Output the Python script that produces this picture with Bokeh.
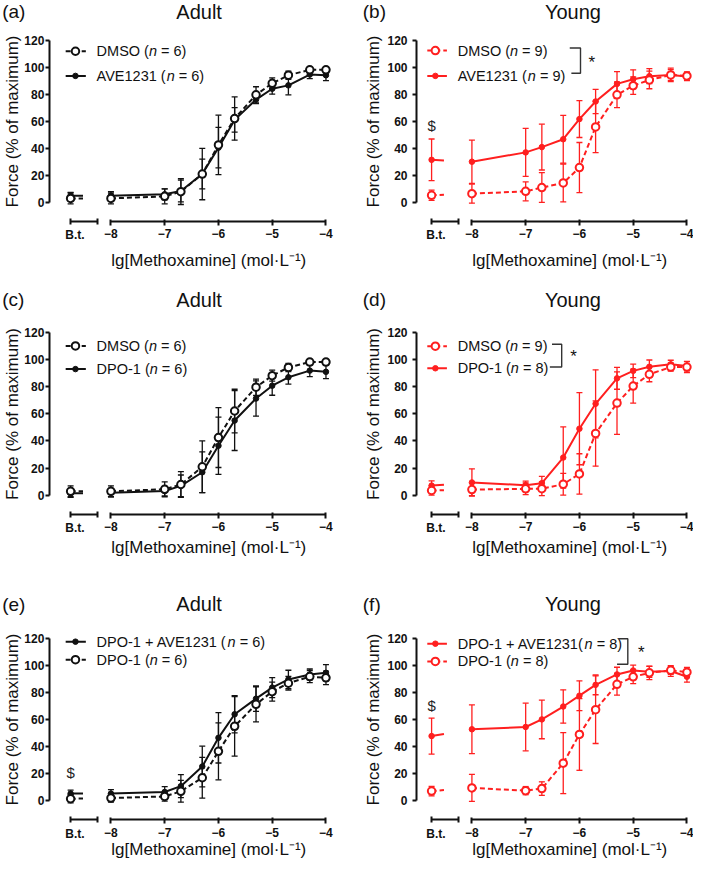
import numpy as np
from bokeh.plotting import figure
from bokeh.models import Range1d, LinearAxis, FixedTicker, Whisker, TeeHead, ColumnDataSource
from bokeh.layouts import column, row
from bokeh.core.properties import value
from bokeh.embed import file_html
from bokeh.resources import INLINE

# ---------------- data ----------------
CONC = [1e-8, 1e-7, 2e-7, 5e-7, 1e-6, 2e-6, 5e-6, 1e-5, 2e-5, 5e-5, 1e-4]   # mol/L
LG = [float(v) for v in np.log10(CONC)]
BT_LABEL = "B.t."
X_TICKS = [-8, -7, -6, -5, -4]
X_TICK_LABELS = ["\u22128", "\u22127", "\u22126", "\u22125", "\u22124"]
Y_TICKS = [0, 20, 40, 60, 80, 100, 120]

# index 0 = B.t. (basal tension), then the CONC order
adult_dmso       = [3.0, 3.0, 4.5, 8.0, 21.0, 42.5, 62.0, 79.5, 88.0, 94.0, 98.0, 98.0]
adult_dmso_sem   = [4.0, 4.0, 5.5, 9.5, 19.0, 22.0, 16.0, 6.0, 4.0, 3.0, 2.0, 2.0]
adult_ave        = [5.0, 5.0, 6.0, 8.5, 21.0, 40.5, 61.0, 76.0, 84.0, 86.5, 94.5, 94.0]
adult_ave_sem    = [2.5, 3.0, 4.0, 8.0, 11.0, 15.0, 9.0, 3.0, 4.0, 7.0, 3.0, 4.0]
adult_dpo        = [1.5, 2.0, 3.2, 7.0, 17.0, 36.5, 55.0, 71.2, 80.6, 86.8, 91.7, 90.8]
adult_dpo_sem    = [3.0, 3.0, 3.5, 8.0, 15.0, 21.0, 22.0, 13.0, 7.0, 5.0, 4.5, 5.0]
adult_dpo_ave    = [5.3, 5.3, 6.5, 10.8, 25.3, 46.5, 63.9, 75.4, 83.6, 89.6, 93.3, 94.5]
adult_dpo_ave_sem= [2.5, 3.0, 4.0, 8.5, 15.0, 18.6, 13.7, 9.4, 7.4, 6.8, 4.0, 6.0]

young_dmso_b     = [5.3, 6.5, 8.2, 11.0, 14.4, 25.8, 55.8, 79.5, 86.3, 90.5, 94.2, 93.5]
young_dmso_b_sem = [3.8, 7.0, 7.0, 11.0, 14.0, 18.5, 19.0, 9.5, 6.5, 6.5, 4.0, 3.0]
young_ave        = [31.5, 30.1, 37.0, 40.9, 46.7, 61.6, 74.6, 87.6, 91.0, 93.3, 94.2, 93.0]
young_ave_sem    = [15.4, 16.0, 17.7, 16.9, 17.6, 13.6, 9.0, 9.0, 7.0, 5.5, 5.0, 3.0]
young_dmso_d     = [3.6, 4.3, 4.8, 4.9, 8.2, 15.8, 45.5, 67.8, 80.3, 89.0, 94.3, 94.3]
young_dmso_d_sem = [3.4, 4.5, 4.3, 5.0, 8.0, 14.8, 24.0, 23.0, 12.5, 5.5, 3.0, 4.0]
young_dpo        = [7.2, 9.5, 7.5, 9.0, 27.8, 49.0, 67.3, 86.0, 91.5, 94.5, 96.3, 95.0]
young_dpo_sem    = [3.5, 10.0, 3.0, 5.0, 22.5, 26.5, 25.0, 8.0, 5.0, 5.0, 3.0, 3.5]
young_dpo_ave    = [47.8, 52.8, 54.5, 60.1, 69.6, 77.6, 85.6, 93.3, 96.2, 95.2, 95.8, 91.6]
young_dpo_ave_sem= [13.3, 18.0, 17.6, 14.3, 12.3, 11.0, 7.3, 5.3, 4.0, 4.0, 4.0, 4.0]

# ---------------- style / layout ----------------
FONT = "Liberation Sans"
RED = "#ff1f1f"
BLACK = "#111111"
BT_X = -8.75          # x position of the B.t. column
STUB = 0.23           # length of the line stub leaving the B.t. point
W = {"L": 346, "R": 347}
H = [280, 299, 289]
XR = {"L": (-10.0545, -3.618), "R": (-10.333, -3.878)}
YR = [(-57.65, 149.2), (-61.8, 157.9), (-50.0, 163.4)]
YAX_X = {"L": -9.145, "R": -9.03}
XAX_Y = -14.0
TITLE_Y = [141.0, 143.6, 145.0]
TITLE_X = {"L": -6.36, "R": -6.12}
PLAB_X = {"L": -10.024, "R": -10.03}
XLAB_Y = [-43.0, -38.0, -36.3]
LEG_GEOM = {"L": (-8.842, -8.467, -8.66, -8.267), "R": (-8.83, -8.465, -8.68, -8.265)}

CW = {' ': 278, '(': 333, ')': 333, '+': 584, '-': 333, '=': 584, 'A': 667, 'D': 722,
      'E': 667, 'M': 833, 'O': 778, 'P': 667, 'S': 667, 'V': 667, 'n': 556}
LEG_SIZE = 14.5


def tw(s, size=LEG_SIZE):
    return sum(CW.get(c, 556) for c in s) * size / 1000.0


def txt(p, x, y, s, size, align="left", style="normal", color=BLACK, x_offset=0):
    p.text(x=[x], y=[y], text=[s], text_font=value(FONT), text_font_size=size,
           text_font_style=style, text_align=align, text_baseline="middle",
           text_color=color, x_offset=x_offset)


def draw_series(p, mean, sem, kind, color):
    dash = "5 3" if kind == "open" else "solid"
    xs = [BT_X] + LG
    src = ColumnDataSource(dict(x=xs, upper=[m + e for m, e in zip(mean, sem)],
                                lower=[m - e for m, e in zip(mean, sem)]))
    wh = Whisker(base="x", upper="upper", lower="lower", source=src, line_color=color,
                 line_width=1.3,
                 upper_head=TeeHead(size=6, line_color=color, line_width=1.3),
                 lower_head=TeeHead(size=6, line_color=color, line_width=1.3))
    p.add_layout(wh)
    frac = STUB / (LG[0] - BT_X)
    p.line([BT_X, BT_X + STUB], [mean[0], mean[0] + (mean[1] - mean[0]) * frac],
           line_color=color, line_width=2, line_dash=dash)
    p.line(LG, mean[1:], line_color=color, line_width=2, line_dash=dash)
    if kind == "open":
        p.scatter(xs, mean, marker="circle", size=7.5, fill_color="white",
                  line_color=color, line_width=2)
    else:
        p.scatter(xs, mean, marker="circle", size=5.5, fill_color=color,
                  line_color=color, line_width=1)


def legend_row(p, side, y, kind, color, parts):
    x0, x1, xm, xt = LEG_GEOM[side]
    dash = "5 3" if kind == "open" else "solid"
    p.line([x0, x1], [y, y], line_color=color, line_width=2, line_dash=dash)
    if kind == "open":
        p.scatter([xm], [y], marker="circle", size=7.5, fill_color="white",
                  line_color=color, line_width=2)
    else:
        p.scatter([xm], [y], marker="circle", size=5.5, fill_color=color, line_color=color)
    pre, it, suf = parts
    fs = f"{LEG_SIZE}px"
    txt(p, xt, y, pre, fs)
    txt(p, xt, y, it, fs, style="italic", x_offset=tw(pre))
    txt(p, xt, y, suf, fs, x_offset=tw(pre) + tw(it) + tw(" "))


def make_panel(cfg):
    side, r = cfg["side"], cfg["row"]
    p = figure(width=W[side], height=H[r], x_range=Range1d(*XR[side]),
               y_range=Range1d(*YR[r]), output_backend="svg", toolbar_location=None,
               x_axis_location=None, y_axis_location=None, min_border=0,
               outline_line_color=None, background_fill_color="white",
               border_fill_color="white")
    p.grid.grid_line_color = None

    # y axis
    yax = LinearAxis(fixed_location=YAX_X[side], bounds=(0, 120),
                     ticker=FixedTicker(ticks=Y_TICKS, minor_ticks=[]),
                     axis_label="Force (% of maximum)")
    yax.axis_line_width = 2
    yax.axis_line_color = BLACK
    yax.major_tick_line_width = 2
    yax.major_tick_line_color = BLACK
    yax.major_tick_out = 4
    yax.major_tick_in = 0
    yax.minor_tick_out = 0
    yax.minor_tick_in = 0
    yax.major_label_text_font = FONT
    yax.major_label_text_font_size = "12px"
    yax.major_label_text_font_style = "bold"
    yax.major_label_text_color = BLACK
    yax.major_label_standoff = 1 if side == "L" else 5
    yax.axis_label_text_font = FONT
    yax.axis_label_text_font_size = "17px"
    yax.axis_label_text_font_style = "normal"
    yax.axis_label_text_color = BLACK
    yax.axis_label_standoff = -1 if side == "L" else 1
    p.add_layout(yax, "left")

    # broken x axis: B.t. segment + concentration segment
    for bounds, ticks, minor, labels in [
        ((BT_X, BT_X + 0.5), [BT_X + 0.08], [BT_X, BT_X + 0.5], {BT_X + 0.08: BT_LABEL}),
        ((X_TICKS[0], X_TICKS[-1]), X_TICKS, [], dict(zip(X_TICKS, X_TICK_LABELS))),
    ]:
        ax = LinearAxis(fixed_location=XAX_Y, bounds=bounds,
                        ticker=FixedTicker(ticks=ticks, minor_ticks=minor),
                        major_label_overrides=labels)
        ax.axis_line_width = 2
        ax.axis_line_color = BLACK
        ax.major_tick_line_width = 2
        ax.major_tick_line_color = BLACK
        ax.minor_tick_line_width = 2
        ax.minor_tick_line_color = BLACK
        if minor:
            ax.major_tick_out = 0
            ax.major_tick_in = 0
            ax.minor_tick_out = 3
            ax.minor_tick_in = 3
        else:
            ax.major_tick_out = 4
            ax.major_tick_in = 2
        ax.major_label_text_font = FONT
        ax.major_label_text_font_size = "12px"
        ax.major_label_text_font_style = "bold"
        ax.major_label_text_color = BLACK
        ax.major_label_standoff = 4
        p.add_layout(ax, "below")

    color = cfg["color"]
    for mean, sem, kind in cfg["series"]:
        draw_series(p, mean, sem, kind, color)

    for y, (kind, parts) in zip(cfg["leg_y"], cfg["legend"]):
        legend_row(p, side, y, kind, color, parts)

    if cfg.get("bracket"):
        xv, xlt, xlb, yt, yb, sx, sy = cfg["bracket"]
        p.line([xlt, xv, xv, xlb], [yt, yt, yb, yb], line_color="#333333", line_width=1.4)
        txt(p, sx, sy, "*", "17px", align="center")
    if cfg.get("dollar") is not None:
        txt(p, BT_X, cfg["dollar"], "$", "15px", align="center", color="#222222")

    txt(p, TITLE_X[side], TITLE_Y[r], cfg["title"], "20px", align="center")
    txt(p, PLAB_X[side], TITLE_Y[r], cfg["label"], "19px")
    txt(p, -6.18, XLAB_Y[r], "lg[Methoxamine] (mol\u00b7L\u207b\u00b9)", "17px", align="center")
    return p


panels = [
    dict(label="(a)", title="Adult", side="L", row=0, color=BLACK,
         series=[(adult_ave, adult_ave_sem, "filled"), (adult_dmso, adult_dmso_sem, "open")],
         leg_y=[111.7, 93.5],
         legend=[("open", ("DMSO (", "n", "= 6)")), ("filled", ("AVE1231 (", "n", "= 6)"))]),
    dict(label="(b)", title="Young", side="R", row=0, color=RED,
         series=[(young_ave, young_ave_sem, "filled"), (young_dmso_b, young_dmso_b_sem, "open")],
         leg_y=[112.2, 93.5],
         legend=[("open", ("DMSO (", "n", "= 9)")), ("filled", ("AVE1231 (", "n", "= 9)"))],
         bracket=(-5.98, -6.18, -6.15, 114.1, 95.5, -5.77, 103.5), dollar=57.0),
    dict(label="(c)", title="Adult", side="L", row=1, color=BLACK,
         series=[(adult_dpo, adult_dpo_sem, "filled"), (adult_dmso, adult_dmso_sem, "open")],
         leg_y=[109.8, 92.8],
         legend=[("open", ("DMSO (", "n", "= 6)")), ("filled", ("DPO-1 (", "n", "= 6)"))]),
    dict(label="(d)", title="Young", side="R", row=1, color=RED,
         series=[(young_dpo, young_dpo_sem, "filled"), (young_dmso_d, young_dmso_d_sem, "open")],
         leg_y=[109.6, 93.4],
         legend=[("open", ("DMSO (", "n", "= 9)")), ("filled", ("DPO-1 (", "n", "= 8)"))],
         bracket=(-6.33, -6.51, -6.55, 111.1, 94.3, -6.11, 101.8)),
    dict(label="(e)", title="Adult", side="L", row=2, color=BLACK,
         series=[(adult_dpo_ave, adult_dpo_ave_sem, "filled"), (adult_dpo, adult_dpo_sem, "open")],
         leg_y=[117.5, 104.2],
         legend=[("filled", ("DPO-1 + AVE1231 (", "n", "= 6)")), ("open", ("DPO-1 (", "n", "= 6)"))],
         dollar=21.2),
    dict(label="(f)", title="Young", side="R", row=2, color=RED,
         series=[(young_dpo_ave, young_dpo_ave_sem, "filled"), (young_dpo, young_dpo_sem, "open")],
         leg_y=[116.0, 102.9],
         legend=[("filled", ("DPO-1 + AVE1231(", "n", "= 8)")), ("open", ("DPO-1 (", "n", "= 8)"))],
         bracket=(-5.10, -5.27, -5.30, 119.7, 100.8, -4.85, 109.2), dollar=70.1),
]

figs = [make_panel(c) for c in panels]
layout = column(row(figs[0], figs[1]), row(figs[2], figs[3]), row(figs[4], figs[5]))

open("out.html", "w").write(file_html(layout, INLINE, title="Methoxamine concentration-response"))
